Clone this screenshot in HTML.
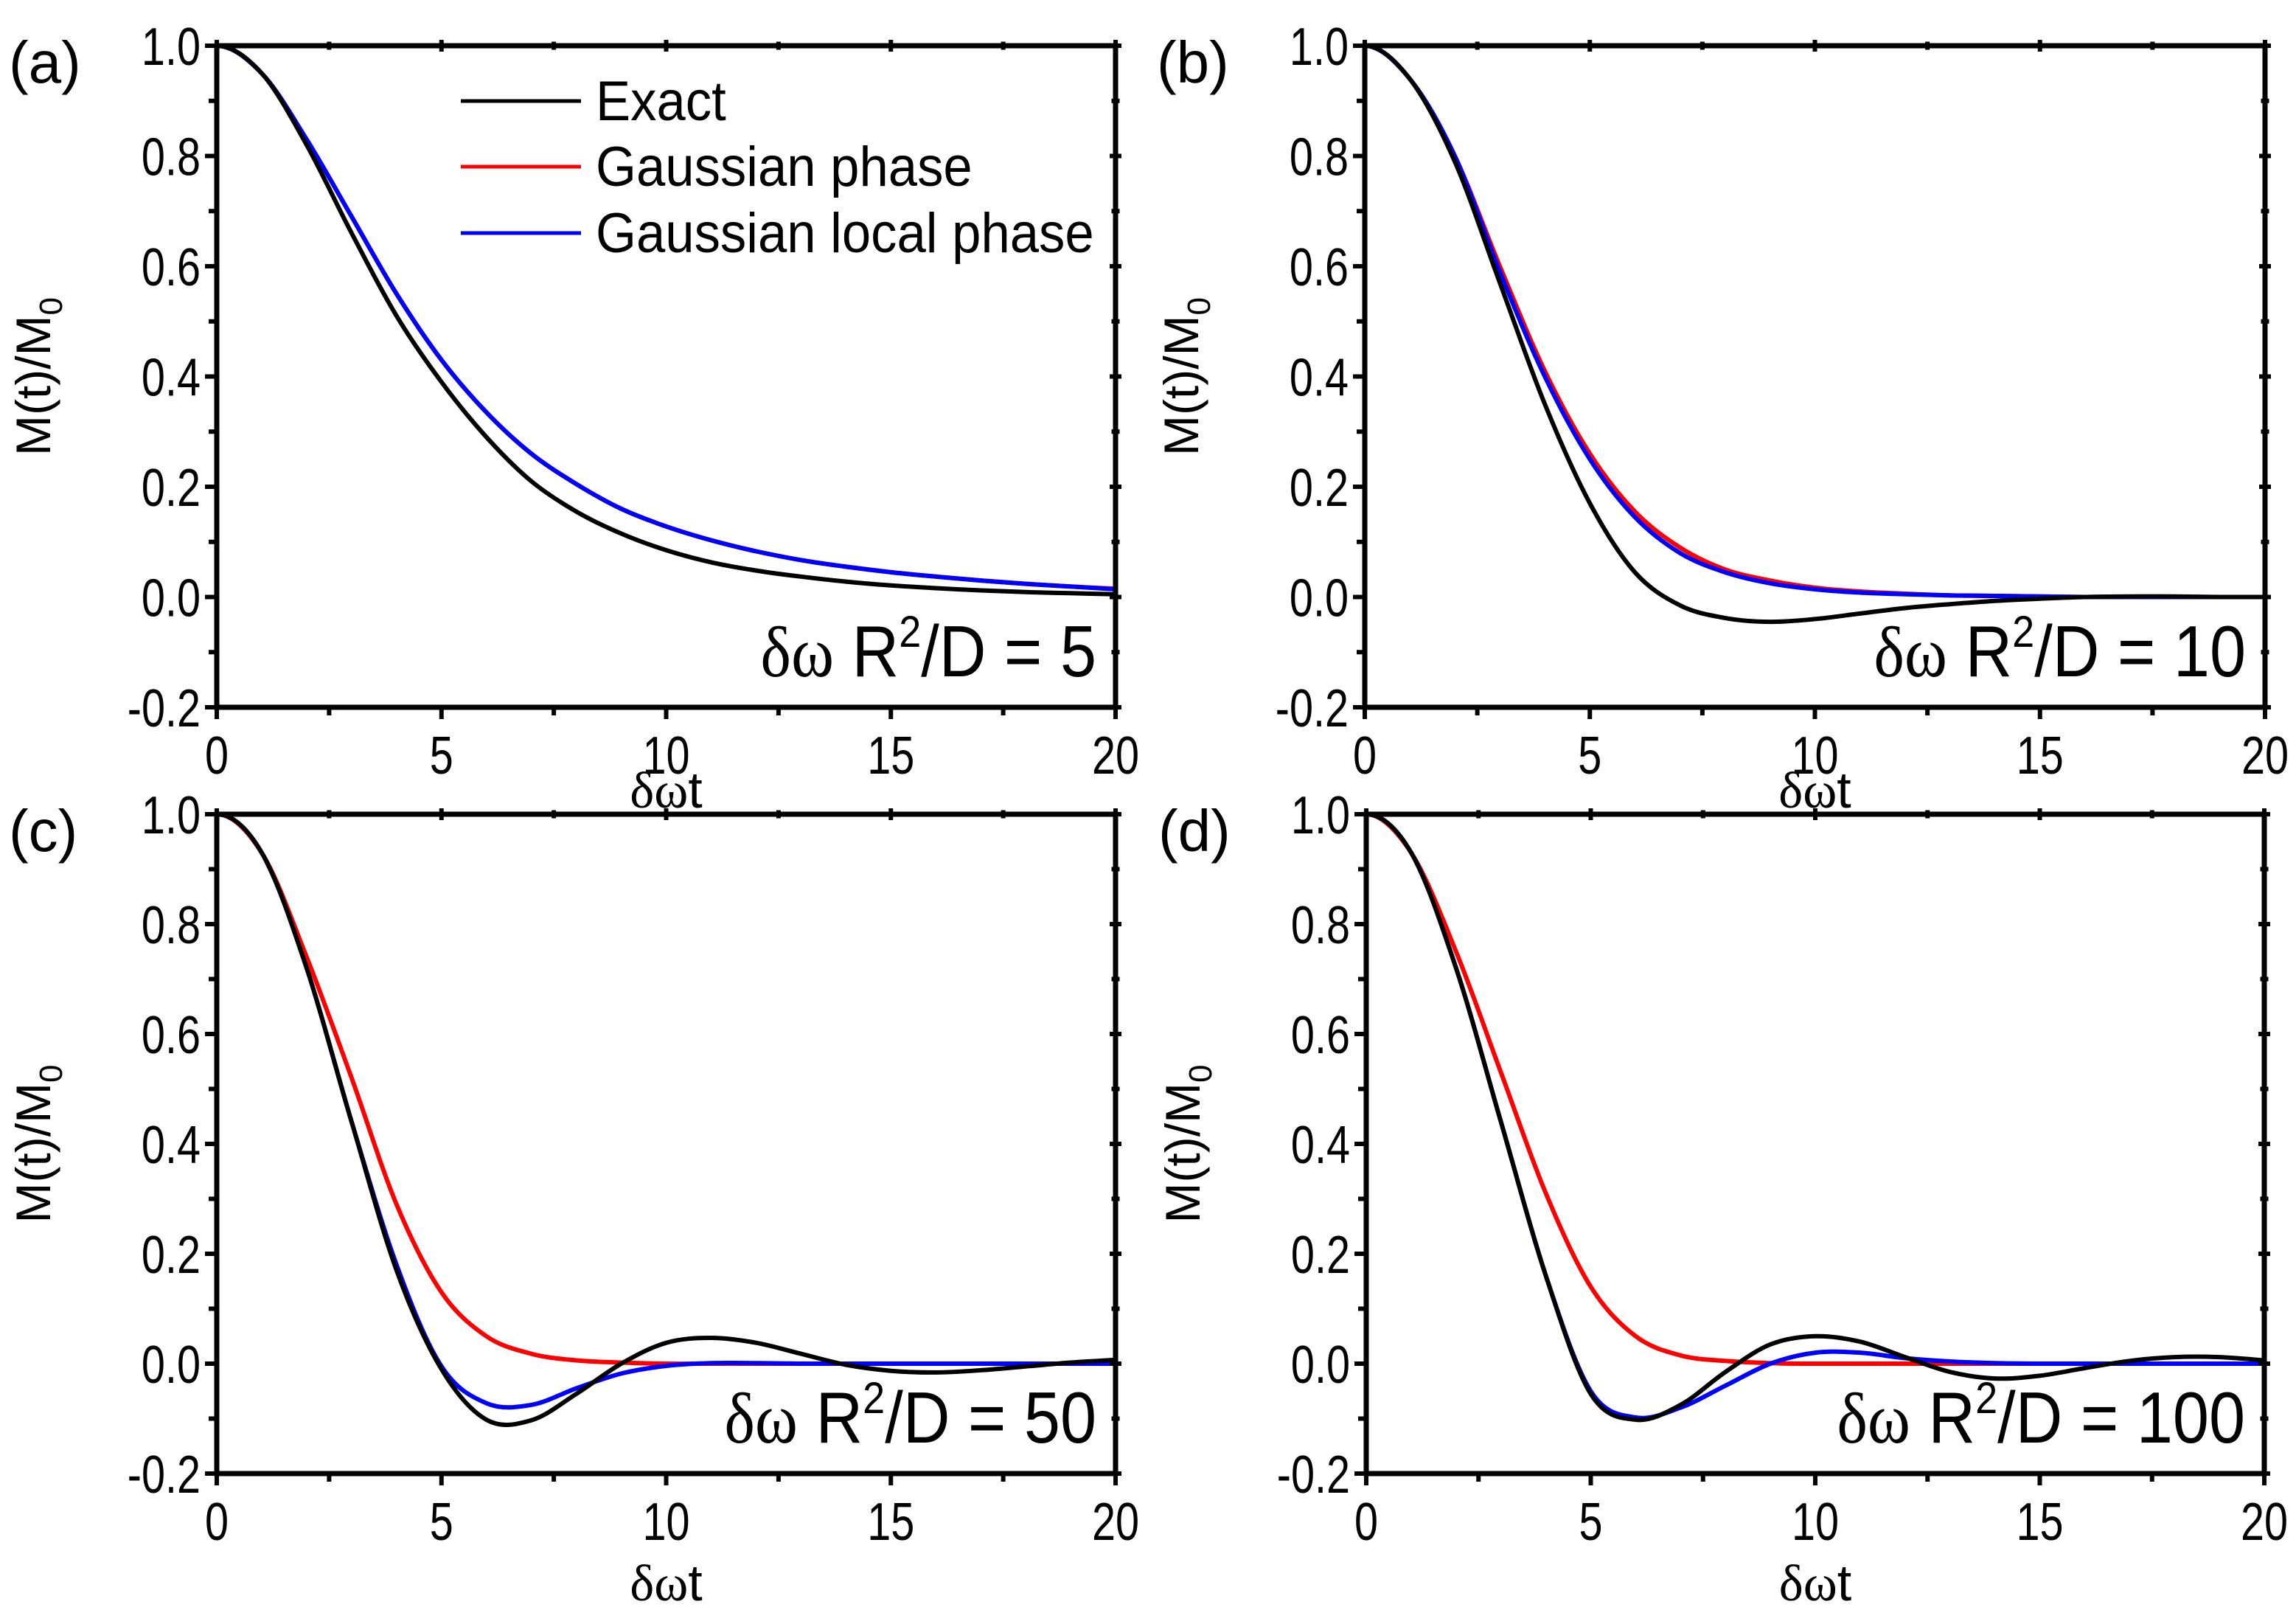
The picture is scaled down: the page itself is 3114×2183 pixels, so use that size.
<!DOCTYPE html>
<html><head><meta charset="utf-8"><style>
html,body{margin:0;padding:0;background:#fff;}
svg{display:block;}
</style></head><body>
<svg id="fig" xmlns="http://www.w3.org/2000/svg" width="3114" height="2183" viewBox="0 0 3114 2183"></svg>
<script>
const tVals=[0,1,2,3,4,5,6,7,8,9,10,11,12,13,14,15,16,17,18,19,20];
const xTicks=[0,5,10,15,20];
const yTicks=[-0.2,0,0.2,0.4,0.6,0.8,1.0];
const yTickLabels=["-0.2","0.0","0.2","0.4","0.6","0.8","1.0"];
const panelLetters=["(a)","(b)","(c)","(d)"];
const panelParams=["5","10","50","100"];
const exactA=[1,0.95,0.82,0.66,0.51,0.39,0.29,0.21,0.155,0.115,0.085,0.063,0.048,0.037,0.028,0.021,0.016,0.012,0.009,0.007,0.005];
const gaussA=[1,0.95,0.83,0.69,0.55,0.43,0.335,0.26,0.205,0.16,0.128,0.103,0.083,0.067,0.055,0.045,0.037,0.03,0.024,0.019,0.015];
const localA=[1,0.95,0.83,0.69,0.55,0.43,0.335,0.26,0.205,0.16,0.128,0.103,0.083,0.067,0.055,0.045,0.037,0.03,0.024,0.019,0.014];
const exactB=[1,0.94,0.79,0.57,0.35,0.17,0.045,-0.015,-0.038,-0.045,-0.04,-0.03,-0.02,-0.013,-0.007,-0.003,0,0.001,0.001,0,0];
const gaussB=[1,0.94,0.80,0.60,0.41,0.26,0.155,0.09,0.05,0.03,0.017,0.01,0.006,0.003,0.002,0.001,0,0,0,0,0];
const localB=[1,0.94,0.80,0.59,0.40,0.25,0.145,0.08,0.045,0.025,0.014,0.008,0.005,0.003,0.002,0.001,0,0,0,0,0];
const exactC=[1,0.93,0.72,0.44,0.17,-0.01,-0.102,-0.103,-0.055,0.0,0.038,0.047,0.038,0.018,-0.002,-0.013,-0.016,-0.012,-0.005,0.002,0.007];
const gaussC=[1,0.93,0.74,0.52,0.29,0.13,0.05,0.018,0.006,0.002,0,0,0,0,0,0,0,0,0,0,0];
const localC=[1,0.93,0.72,0.44,0.18,-0.005,-0.072,-0.075,-0.045,-0.018,-0.004,0.001,0.001,0,0,0,0,0,0,0,0];
const exactD=[1,0.93,0.72,0.44,0.16,-0.055,-0.102,-0.075,-0.015,0.035,0.05,0.04,0.012,-0.015,-0.027,-0.022,-0.008,0.005,0.012,0.012,0.006];
const gaussD=[1,0.93,0.75,0.53,0.31,0.14,0.05,0.015,0.005,0.001,0,0,0,0,0,0,0,0,0,0,0];
const localD=[1,0.93,0.72,0.44,0.16,-0.05,-0.098,-0.08,-0.04,0.0,0.02,0.02,0.01,0.004,0.001,0,0,0,0,0,0];

const series=[[exactA,gaussA,localA],[exactB,gaussB,localB],[exactC,gaussC,localC],[exactD,gaussD,localD]];
const boxes=[{l:294,r:1513,t:62,b:959,ly:1095},{l:1851,r:3072,t:62,b:959,ly:1095},{l:294,r:1513,t:1104,b:1998,ly:2170},{l:1853,r:3071,t:1104,b:1998,ly:2170}];
const NS="http://www.w3.org/2000/svg";
const svg=document.getElementById('fig');
function mk(tag,attrs,parent){const e=document.createElementNS(NS,tag);for(const k in attrs)e.setAttribute(k,attrs[k]);(parent||svg).appendChild(e);return e;}
function pathFor(xs,ys,sx,sy){
  const p=xs.map((x,i)=>[sx(x),sy(ys[i])]);
  let d="M"+p[0][0].toFixed(1)+","+p[0][1].toFixed(1);
  for(let i=0;i<p.length-1;i++){
    const p0=i>0?p[i-1]:[2*p[0][0]-p[1][0],p[1][1]],p1=p[i],p2=p[i+1],p3=p[i+2]||p2;
    const c1=[p1[0]+(p2[0]-p0[0])/6,p1[1]+(p2[1]-p0[1])/6];
    const c2=[p2[0]-(p3[0]-p1[0])/6,p2[1]-(p3[1]-p1[1])/6];
    d+=" C"+c1[0].toFixed(1)+","+c1[1].toFixed(1)+" "+c2[0].toFixed(1)+","+c2[1].toFixed(1)+" "+p2[0].toFixed(1)+","+p2[1].toFixed(1);
  }
  return d;
}
const colors=["#000000","#ff0000","#0000ff"];
const names=["exact","gaussian-phase","gaussian-local-phase"];
boxes.forEach((B,pi)=>{
  const g=mk('g',{});
  
  
  const sx=v=>B.l+(v-0)/20*(B.r-B.l);
  const sy=v=>B.b-(v+0.2)/1.2*(B.b-B.t);
  [1,2,0].forEach(si=>{
    const p=mk('path',{d:pathFor(tVals,series[pi][si],sx,sy),fill:'none',stroke:colors[si],'stroke-width':6,'stroke-linejoin':'round'},g);
    
    
  });
  const fr=mk('rect',{x:B.l,y:B.t,width:B.r-B.l,height:B.b-B.t,fill:'none',stroke:'#000','stroke-width':7},g);
  
  
  for(let v=0;v<=20;v+=2.5){
    const major=v%5===0, L=major?16:11, x=sx(v);
    mk('line',{x1:x,y1:B.b,x2:x,y2:B.b+L,stroke:'#000','stroke-width':6},g);
    mk('line',{x1:x,y1:B.t-L/2,x2:x,y2:B.t+L/2,stroke:'#000','stroke-width':6},g);
  }
  xTicks.forEach(v=>{
    const t=mk('text',{transform:`translate(${sx(v)},${B.b+90}) scale(0.8,1)`,'text-anchor':'middle','font-family':'Liberation Sans, sans-serif','font-size':72},g);
    t.textContent=v;
    
    
  });
  for(let k=0;k<=12;k++){
    const v=-0.2+k*0.1, y=sy(v), major=k%2===0, L=major?16:11;
    mk('line',{x1:B.l-L,y1:y,x2:B.l,y2:y,stroke:'#000','stroke-width':6},g);
    mk('line',{x1:B.r-L/2,y1:y,x2:B.r+L/2,y2:y,stroke:'#000','stroke-width':6},g);
  }
  yTicks.forEach((v,i)=>{
    const t=mk('text',{transform:`translate(${B.l-22},${sy(v)+26}) scale(0.8,1)`,'text-anchor':'end','font-family':'Liberation Sans, sans-serif','font-size':72},g);
    t.textContent=yTickLabels[i];
    
    
  });
  const yt=mk('text',{transform:`translate(${B.l-226},${(B.t+B.b)/2}) rotate(-90)`,'text-anchor':'middle','font-family':'Liberation Sans, sans-serif','font-size':66},g);
  yt.innerHTML='M(t)/M<tspan font-size="44" dy="16">0</tspan>';
  
  
  const xt=mk('text',{x:(B.l+B.r)/2,y:B.ly,'text-anchor':'middle','font-family':'Liberation Serif, serif','font-size':70},g);
  xt.innerHTML='δω<tspan font-family="Liberation Sans, sans-serif">t</tspan>';
  
  
  const an=mk('text',{transform:`translate(${B.r-26},${B.b-42}) scale(0.9,1)`,'text-anchor':'end','font-family':'Liberation Sans, sans-serif','font-size':98},g);
  an.innerHTML='<tspan font-family="Liberation Serif, serif">δω</tspan> R<tspan font-size="60" dy="-40">2</tspan><tspan dy="40">/D = '+panelParams[pi]+'</tspan>';
  
  
  const pl=mk('text',{x:B.l-282,y:B.t+50,'font-family':'Liberation Sans, sans-serif','font-size':80},g);
  pl.textContent=panelLetters[pi];
  
  
});
const legLabels=["Exact","Gaussian phase","Gaussian local phase"];
const legY=[137,226,316];
const lg=mk('g',{});


legLabels.forEach((s,i)=>{
  const e=mk('g',{},lg);
  
  
  mk('line',{x1:625,y1:legY[i],x2:788,y2:legY[i],stroke:colors[i],'stroke-width':5},e);
  const t=mk('text',{transform:`translate(808,${legY[i]+26}) scale(0.93,1)`,'font-family':'Liberation Sans, sans-serif','font-size':76},e);
  t.textContent=s;
});
</script>
</body></html>
